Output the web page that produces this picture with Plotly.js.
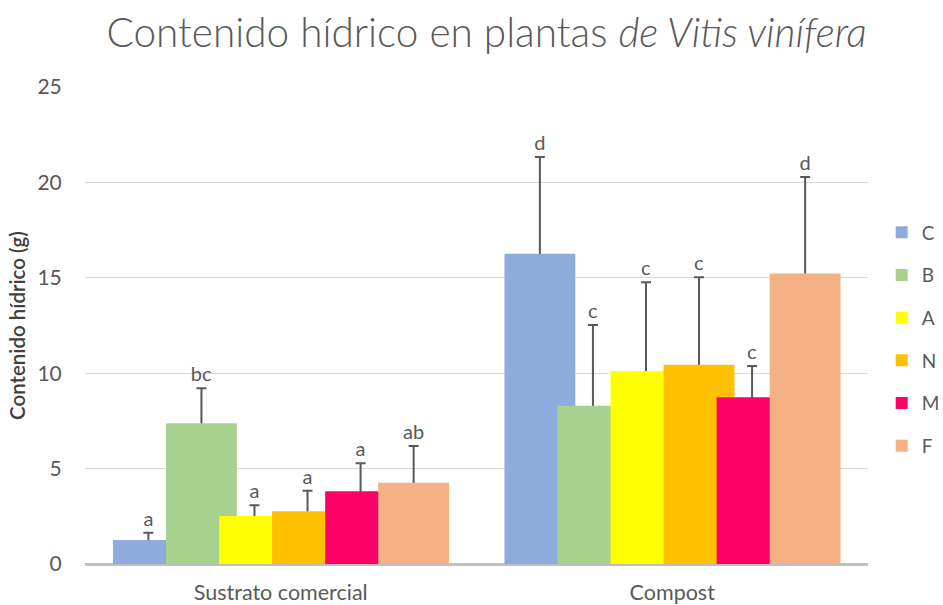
<!DOCTYPE html>
<html>
<head>
<meta charset="utf-8">
<script src="https://cdn.plot.ly/plotly-3.0.1.min.js"></script>
<style>html,body{margin:0;padding:0;background:#fff;}#chart{width:943px;height:605px;}</style>
</head>
<body>
<div id="chart"></div>
<script>
// ---- data ----
const categories = ['Sustrato comercial', 'Compost'];
const seriesNames = ['C', 'B', 'A', 'N', 'M', 'F'];
const valC = [1.26, 16.26];
const valB = [7.38, 8.29];
const valA = [2.52, 10.12];
const valN = [2.76, 10.44];
const valM = [3.81, 8.74];
const valF = [4.26, 15.22];
const errC = [0.38, 5.07];
const errB = [1.83, 4.24];
const errA = [0.56, 4.65];
const errN = [1.08, 4.59];
const errM = [1.47, 1.64];
const errF = [1.93, 5.06];
const letC = ['a', 'd'];
const letB = ['bc', 'c'];
const letA = ['a', 'c'];
const letN = ['a', 'c'];
const letM = ['a', 'c'];
const letF = ['ab', 'd'];
const yTickVals = [0, 5, 10, 15, 20, 25];

// ---- style ----
const colors = ['#8FAADC', '#A9D18E', '#FFFF00', '#FFC000', '#FF0066', '#F4B183'];
const FONT = 'Lato, "Open Sans", sans-serif';
const TXT = '#595959';
const BAR_W = 0.181;
const STEP = 0.1355;
const OFF0 = -0.4286;
const HIDE = 0.25; // error whisker starts slightly inside the bar, base cap hidden by the bar

const vals = [valC, valB, valA, valN, valM, valF];
const errs = [errC, errB, errA, errN, errM, errF];
const lets = [letC, letB, letA, letN, letM, letF];

const traces = [];
seriesNames.forEach((name, i) => {
  // whisker (drawn first, then covered by its bar)
  traces.push({
    type: 'bar', name: name + '_err', x: categories, y: vals[i],
    width: BAR_W, offset: OFF0 + i * STEP,
    marker: {color: 'rgba(0,0,0,0)', line: {width: 0}},
    error_y: {type: 'data', symmetric: false, array: errs[i],
              arrayminus: vals[i].map(() => HIDE),
              color: '#595959', thickness: 2, width: 5},
    showlegend: false, hoverinfo: 'skip'
  });
  traces.push({
    type: 'bar', name: name, x: categories, y: vals[i],
    width: BAR_W, offset: OFF0 + i * STEP,
    marker: {color: colors[i], line: {width: 0}},
    legendgroup: name, showlegend: true, hoverinfo: 'skip'
  });
});
// letter labels placed above error bar tops
seriesNames.forEach((name, i) => {
  traces.push({
    type: 'bar', name: name + '_lbl', x: categories,
    y: vals[i].map((v, k) => v + errs[i][k]),
    width: BAR_W, offset: OFF0 + i * STEP,
    marker: {color: 'rgba(0,0,0,0)', line: {width: 0}},
    text: lets[i], textposition: 'outside', cliponaxis: false,
    textfont: {family: FONT, size: 20, color: TXT},
    showlegend: false, hoverinfo: 'skip'
  });
});

const layout = {
  width: 943, height: 605,
  margin: {l: 85, r: 75, t: 87, b: 41, autoexpand: false},
  paper_bgcolor: '#fff', plot_bgcolor: '#fff',
  barmode: 'overlay',
  title: {
    text: 'Contenido hídrico en plantas <i>de Vitis vinífera</i>',
    font: {family: FONT, size: 40.5, color: TXT, weight: 300},
    xref: 'container', x: 0.516, xanchor: 'center',
    yref: 'container', y: 0.945, yanchor: 'middle'
  },
  xaxis: {
    type: 'category', range: [-0.5, 1.5],
    showgrid: false, zeroline: false, showline: false,
    ticks: 'outside', ticklen: 9, tickcolor: 'rgba(0,0,0,0)',
    tickfont: {family: FONT, size: 21.5, color: TXT}
  },
  yaxis: {
    range: [0, 25], tickvals: yTickVals,
    showgrid: true, gridcolor: '#D9D9D9', gridwidth: 1.3,
    zeroline: true, zerolinecolor: '#BFBFBF', zerolinewidth: 3,
    showline: false,
    ticks: 'outside', ticklen: 18, tickcolor: 'rgba(0,0,0,0)',
    tickfont: {family: FONT, size: 21, color: TXT},
    title: {text: 'Contenido hídrico (g)', font: {family: FONT, size: 20.5, color: '#404040', weight: 600}, standoff: 6}
  },
  legend: {
    x: 1.0175, xanchor: 'left', y: 0.735, yanchor: 'top',
    font: {family: FONT, size: 19, color: TXT},
    bgcolor: 'rgba(0,0,0,0)', borderwidth: 0,
    tracegroupgap: 15, itemclick: false
  },
  showlegend: true
};

Plotly.newPlot('chart', traces, layout, {displayModeBar: false, staticPlot: true});
</script>
</body>
</html>
